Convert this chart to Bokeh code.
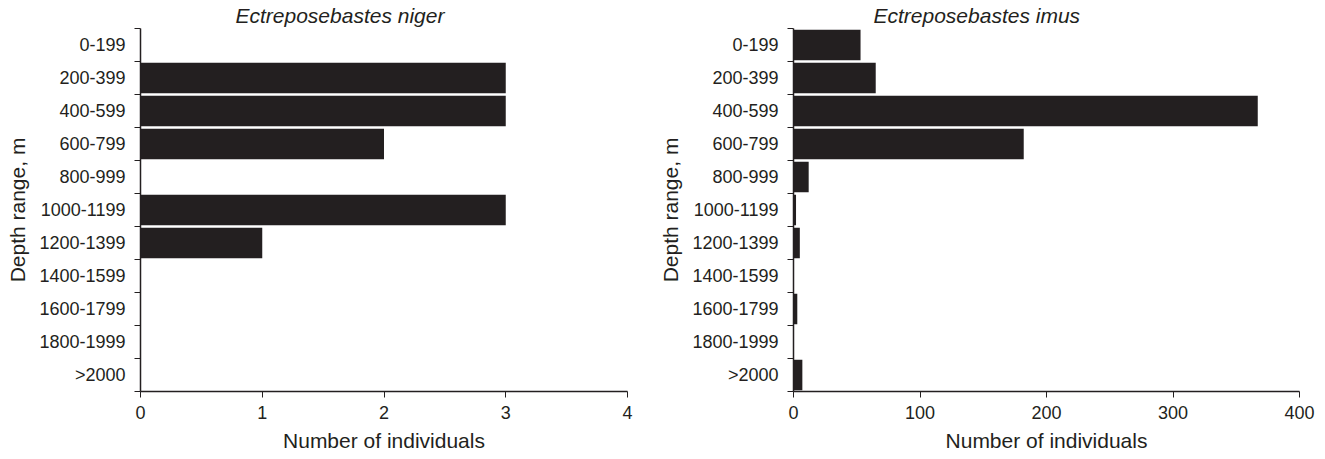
from bokeh.plotting import figure
from bokeh.models import Range1d, FixedTicker
from bokeh.layouts import row
from bokeh.embed import file_html
from bokeh.resources import INLINE

depth_ranges = ["0-199", "200-399", "400-599", "600-799", "800-999", "1000-1199",
                "1200-1399", "1400-1599", "1600-1799", "1800-1999", ">2000"]
niger_counts = [0, 3, 3, 2, 0, 3, 1, 0, 0, 0, 0]
imus_counts = [53, 65, 367, 182, 12, 2, 5, 0, 3, 0, 7]
niger_xticks = [0, 1, 2, 3, 4]
imus_xticks = [0, 100, 200, 300, 400]

INK = "#231f20"
FONT = "Liberation Sans"


def make_panel(title, counts, xticks, width, border_left, border_right, title_offset):
    n = len(depth_ranges)
    p = figure(width=width, height=454, output_backend="svg", toolbar_location=None,
               x_range=Range1d(xticks[0], xticks[-1]), y_range=Range1d(n, 0),
               min_border_left=border_left, min_border_right=border_right,
               min_border_top=0, min_border_bottom=0)
    p.outline_line_color = None
    p.xgrid.visible = False
    p.ygrid.visible = False
    p.background_fill_color = "white"
    p.border_fill_color = "white"

    centers = [i + 0.5 for i in range(n)]
    p.hbar(y=centers, right=counts, left=0, height=0.93,
           fill_color=INK, line_color=None)

    p.title.text = title
    p.title.align = "left"
    p.title.offset = title_offset
    p.title.text_font = FONT
    p.title.text_font_style = "italic"
    p.title.text_font_size = "21px"
    p.title.text_color = INK
    p.title.standoff = 3

    xa = p.xaxis[0]
    xa.ticker = FixedTicker(ticks=xticks)
    xa.axis_label = "Number of individuals"
    xa.axis_label_text_font = FONT
    xa.axis_label_text_font_style = "normal"
    xa.axis_label_text_font_size = "21px"
    xa.axis_label_text_color = INK
    xa.axis_label_standoff = 7
    xa.major_label_text_font = FONT
    xa.major_label_text_font_size = "18px"
    xa.major_label_text_color = INK
    xa.major_label_standoff = 8
    xa.major_tick_in = 0
    xa.major_tick_out = 6
    xa.minor_tick_line_color = None
    xa.axis_line_color = INK
    xa.major_tick_line_color = INK
    xa.axis_line_width = 1.5

    ya = p.yaxis[0]
    ya.ticker = FixedTicker(ticks=centers, minor_ticks=list(range(n + 1)))
    ya.major_label_overrides = {c: lab for c, lab in zip(centers, depth_ranges)}
    ya.axis_label = "Depth range, m"
    ya.axis_label_text_font = FONT
    ya.axis_label_text_font_style = "normal"
    ya.axis_label_text_font_size = "21px"
    ya.axis_label_text_color = INK
    ya.axis_label_standoff = 7
    ya.major_label_text_font = FONT
    ya.major_label_text_font_size = "18px"
    ya.major_label_text_color = INK
    ya.major_label_standoff = 9
    ya.major_tick_line_color = None
    ya.major_tick_in = 0
    ya.major_tick_out = 0
    ya.minor_tick_line_color = INK
    ya.minor_tick_in = 0
    ya.minor_tick_out = 6
    ya.axis_line_color = INK
    ya.axis_line_width = 1.5
    return p


p1 = make_panel("Ectreposebastes niger", niger_counts, niger_xticks, 650, 140, 23, 95)
p2 = make_panel("Ectreposebastes imus", imus_counts, imus_xticks, 665, 143, 16, 80)

layout = row(p1, p2)
open("out.html", "w").write(file_html(layout, INLINE))
